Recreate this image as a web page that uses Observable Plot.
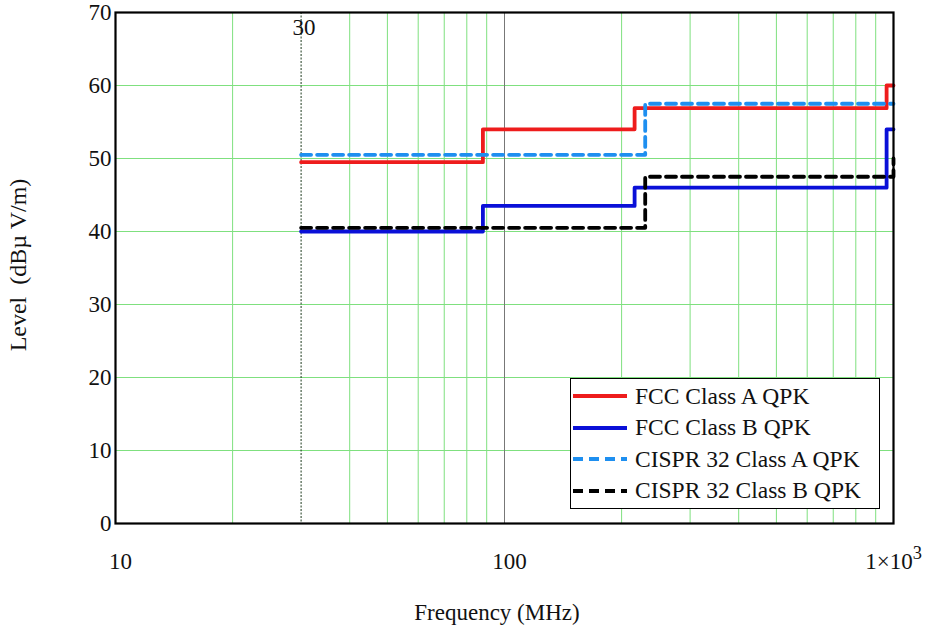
<!DOCTYPE html>
<html>
<head>
<meta charset="utf-8">
<script src="https://cdn.jsdelivr.net/npm/d3@7"></script>
<script src="https://cdn.jsdelivr.net/npm/@observablehq/plot@0.6"></script>
<style>
  html, body { margin: 0; padding: 0; background: #fff; }
  #wrap { position: relative; width: 929px; height: 632px; font-family: "Liberation Serif", "Times New Roman", serif; }
  #legend { position: absolute; left: 570px; top: 378px; width: 310px; height: 131px; border: 1.5px solid #000; background: #fff; box-sizing: border-box; }
  .row { position: absolute; left: 0; height: 30px; display: flex; align-items: center; font-size: 23.5px; color: #111; }
  .row svg { margin-left: 2px; margin-right: 8px; }
</style>
</head>
<body>
<div id="wrap"></div>
<script>
// ---- data ----
const fccA_f = [30, 88, 216, 960, 1000];
const fccA_v = [49.5, 54, 56.9, 60, 60];
const fccB_f = [30, 88, 216, 960, 1000];
const fccB_v = [40, 43.5, 46, 54, 54];
const cisprA_f = [30, 230, 1000];
const cisprA_v = [50.5, 57.5, 57.5];
const cisprB_f = [30, 230, 1000];
const cisprB_v = [40.5, 47.5, 50];

const seriesNames = ["FCC Class A QPK", "FCC Class B QPK", "CISPR 32 Class A QPK", "CISPR 32 Class B QPK"];
const seriesColors = ["#ee1c1c", "#0a10d8", "#1e8ff0", "#000000"];
const seriesDash = [null, null, "10,6", "10,6"];

const xMinorGrid = [20, 40, 50, 60, 70, 80, 90, 200, 300, 400, 500, 600, 700, 800, 900];
const yGrid = [10, 20, 30, 40, 50, 60];
const yTicks = [0, 10, 20, 30, 40, 50, 60, 70];
const xTicks = [10, 100, 1000];
const xTickLabels = ["10", "100", "1×10"];
const xTickSup = ["", "", "3"];
const markerFreq = [30];
const majorFreq = [100];

const toRows = (f, v) => f.map((d, i) => ({f: d, v: v[i]}));
const series = [toRows(fccA_f, fccA_v), toRows(fccB_f, fccB_v), toRows(cisprA_f, cisprA_v), toRows(cisprB_f, cisprB_v)];

const font = "Liberation Serif, Times New Roman, serif";
const fs = 23;

const chart = Plot.plot({
  width: 929,
  height: 632,
  marginLeft: 115,
  marginRight: 36,
  marginTop: 12,
  marginBottom: 109,
  style: {fontFamily: font, fontSize: fs + "px", color: "#111", background: "#fff"},
  x: {type: "log", domain: [10, 1000]},
  y: {domain: [0, 70]},
  marks: [
    Plot.ruleX(xMinorGrid, {x: d => d, stroke: "#7fe07f", strokeWidth: 1}),
    Plot.ruleY(yGrid, {y: d => d, stroke: "#7fe07f", strokeWidth: 1}),
    Plot.ruleX(majorFreq, {x: d => d, stroke: "#777", strokeWidth: 1}),
    Plot.ruleX(markerFreq, {x: d => d, stroke: "#1d3a1d", strokeWidth: 1, strokeDasharray: "2,1.5"}),
    ...series.map((s, i) => Plot.line(s, {
      x: "f", y: "v", curve: "step-after",
      stroke: seriesColors[i], strokeWidth: 3.8,
      strokeDasharray: seriesDash[i] || undefined
    })),
    Plot.text(markerFreq, {x: d => d, frameAnchor: "top", dy: 6, text: d => String(d), fontSize: fs, fill: "#111", dx: 3}),
    Plot.frame({stroke: "#000", strokeWidth: 2.2}),
    Plot.axisY(yTicks, {tickSize: 0, tickPadding: 4, fontSize: fs, label: null}),
    Plot.axisX(xTicks, {tickSize: 0, tickPadding: 29, fontSize: fs, dx: 5, label: null,
      tickFormat: d => xTickLabels[xTicks.indexOf(d)]})
  ]
});

const wrap = document.getElementById("wrap");
wrap.appendChild(chart);

const svg = d3.select(chart);
// superscript on the 1×10 tick
svg.selectAll("text").each(function () {
  const t = d3.select(this);
  const txt = t.text();
  const k = xTickLabels.indexOf(txt);
  if (k >= 0 && xTickSup[k] && this.childElementCount === 0) {
    t.attr("transform", (t.attr("transform") || "") + " translate(-5,0)");
    t.append("tspan").attr("dy", "-0.55em").attr("font-size", fs * 0.8).text(xTickSup[k]);
  }
});
svg.append("text")
  .attr("x", 497).attr("y", 620)
  .attr("text-anchor", "middle")
  .attr("font-size", fs).attr("font-family", font).attr("fill", "#111")
  .text("Frequency (MHz)");
svg.append("text")
  .attr("transform", "translate(26,265) rotate(-90)")
  .attr("text-anchor", "middle")
  .attr("font-size", fs + 1).attr("font-family", font).attr("fill", "#111")
  .text("Level  (dBµ V/m)");

// legend
const legend = document.createElement("div");
legend.id = "legend";
seriesNames.forEach((name, i) => {
  const row = document.createElement("div");
  row.className = "row";
  row.style.top = (2 + i * 31.5) + "px";
  const dash = seriesDash[i] ? `stroke-dasharray="10,6"` : "";
  row.innerHTML = `<svg width="54" height="10"><line x1="0" y1="5" x2="54" y2="5" stroke="${seriesColors[i]}" stroke-width="3.8" ${dash}/></svg><span>${name}</span>`;
  legend.appendChild(row);
});
wrap.appendChild(legend);
</script>
</body>
</html>
